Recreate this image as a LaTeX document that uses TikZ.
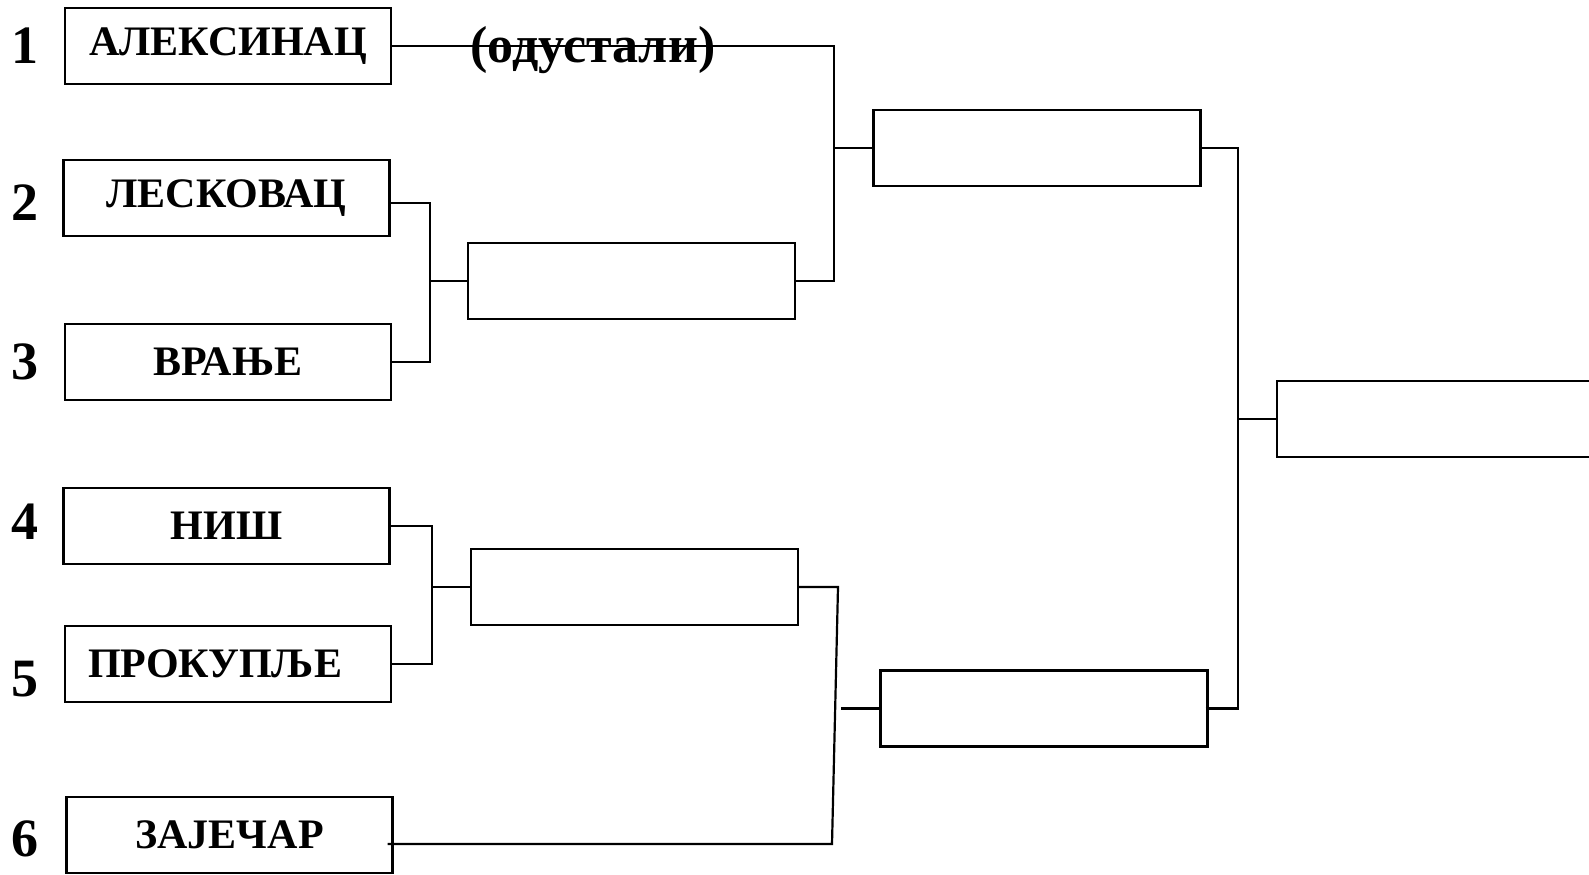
\documentclass[tikz,border=0pt]{standalone}
\usepackage{fontspec}
\setmainfont{Liberation Serif}
\usetikzlibrary{positioning,calc}

\begin{document}
\begin{tikzpicture}[x=0.5pt,y=-0.5pt,line width=1.1pt,
  team/.style={rectangle,draw,line width=1.1pt,inner sep=0pt,minimum width=163pt,minimum height=38pt,font=\bfseries\fontsize{21}{24}\selectfont},
  slot/.style={rectangle,draw,line width=1.1pt,inner sep=0pt,minimum width=163.5pt,minimum height=38pt},
  seed/.style={font=\bfseries\fontsize{27}{30}\selectfont},
  wire/.style={line width=1.1pt}]
\useasboundingbox (0,0) rectangle (1589,874);
\clip (0,0) rectangle (1589,874);
% ---- seeds and teams ----
\foreach \n/\y in {1/46,2/203,3/362,4/522,5/679,6/839}{
  \node[seed] (n\n) at (25,\y) {\n};}
\foreach \i/\x/\y/\lab in {1/228/46/{АЛЕКСИНАЦ},2/226.5/198/{ЛЕСКОВАЦ},3/228/362/{ВРАЊЕ},4/226.5/526/{НИШ},5/228/664/{ПРОКУПЉЕ\kern13pt},6/229.5/835/{ЗАЈЕЧАР}}{
  \node[team] (t\i) at (\x,\y) {\lab};}
% ---- empty slots ----
\node[slot] (qa) at (631.5,281) {};
\node[slot] (qb) at (634.5,587) {};
\node[slot] (sa) at (1037,148) {};
\node[slot] (sb) at (1044,708.5) {};
\node[slot,minimum width=175pt,anchor=west] (fin) at (1276,419) {};
% ---- joints ----
\coordinate (j1) at (834,281);
\coordinate (j2) at (430,281);
\coordinate (j3) at (432,587);
\coordinate (k1) at (838,587);
\coordinate (k2) at (832,844);
\coordinate (k3) at (841,708.5);
\coordinate (m1) at (1238,419);
% ---- brackets ----
\draw[wire] (t1.east) -| (j1) -- (qa.east);
\draw[wire] (j1 |- sa.west) -- (sa.west);
\node[font=\bfseries\fontsize{26}{30}\selectfont] (wd) at (593,50) {(одустали)};
\draw[wire] ([yshift=-2.5pt]t2.east) -| (j2) |- (t3.east);
\draw[wire] (j2) -- (qa.west);
\draw[wire] (t4.east) -| (j3) |- (t5.east);
\draw[wire] (j3) -- (qb.west);
\draw[wire] (qb.east) -- (k1) -- (k2) -- ([xshift=-3pt]t6.east |- k2);
\draw[wire] (k3) -- (sb.west);
\draw[wire] (sa.east) -| (m1) -- (fin.west);
\draw[wire] ([xshift=-1.5pt]sb.east) -| (m1);
\end{tikzpicture}
\end{document}
